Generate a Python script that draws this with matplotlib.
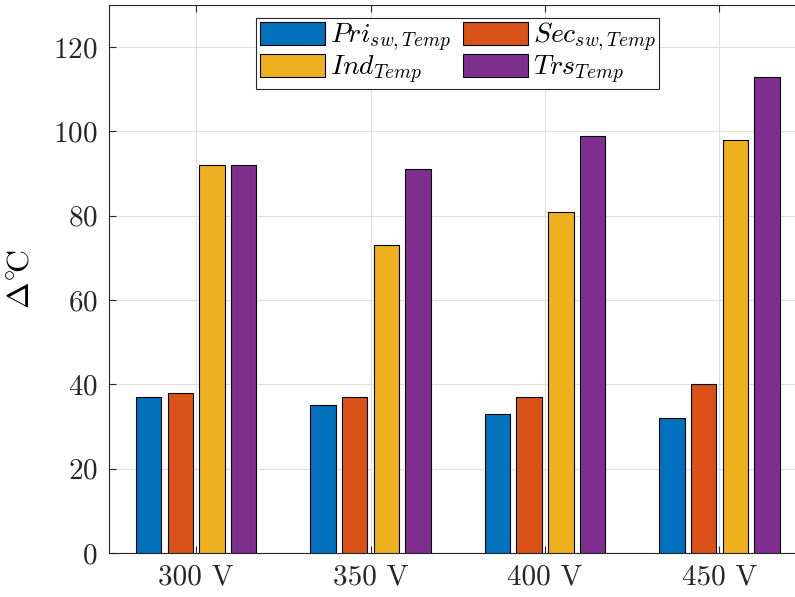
import matplotlib
matplotlib.use("Agg")
import matplotlib.pyplot as plt
import numpy as np

plt.rcParams['font.family'] = 'serif'
plt.rcParams['font.serif'] = ['cmr10']
plt.rcParams['mathtext.fontset'] = 'cm'
plt.rcParams['axes.formatter.use_mathtext'] = True

categories = ['300 V', '350 V', '400 V', '450 V']
series_labels = [r'$Pri_{sw,Temp}$', r'$Sec_{sw,Temp}$', r'$Ind_{Temp}$', r'$Trs_{Temp}$']
pri_sw = [37, 35, 33, 32]
sec_sw = [38, 37, 37, 40]
ind_temp = [92, 73, 81, 98]
trs_temp = [92, 91, 99, 113]
yticks = [0, 20, 40, 60, 80, 100, 120]

series = [pri_sw, sec_sw, ind_temp, trs_temp]
colors = ['#0072BD', '#D95319', '#EDB120', '#7E2F8E']

fig = plt.figure(figsize=(7.95, 5.97), dpi=100)
ax = fig.add_axes([109 / 795, 44 / 597, 697.6 / 795, 548 / 597])

x = np.arange(1, len(categories) + 1)
n = len(series)
group_w = min(0.8, n / (n + 1.5))
slot = group_w / n
bar_w = 0.8 * slot

handles = []
for i, (vals, lab, col) in enumerate(zip(series, series_labels, colors)):
    offs = -group_w / 2 + slot * (i + 0.5)
    h = ax.bar(x + offs, vals, width=bar_w, color=col, edgecolor='black',
               linewidth=0.8, label=lab, zorder=3)
    handles.append(h)

ax.set_xlim(0.5, 4.5)
ax.set_ylim(0, 130)
ax.set_xticks(x)
ax.set_xticklabels(categories)
ax.set_yticks(yticks)
ax.tick_params(axis='both', labelsize=21, direction='in', length=5,
               width=0.8, colors='#262626', pad=8)
ax.tick_params(axis='x', top=True)
ax.grid(True, color='#e0e0e0', linewidth=0.8, zorder=0)
ax.set_axisbelow(True)

for side in ['left', 'bottom', 'top']:
    ax.spines[side].set_color('#262626')
    ax.spines[side].set_linewidth(0.8)
ax.spines['right'].set_visible(False)

ax.set_ylabel(r'$\Delta^{\circ}\!\mathrm{C}$', fontsize=23, labelpad=13)

# row-major legend order: matplotlib fills columns first
order = [0, 2, 1, 3]
leg = ax.legend([handles[k] for k in order], [series_labels[k] for k in order],
                loc='upper center', ncol=2, fontsize=20, frameon=True,
                fancybox=False, edgecolor='#262626', framealpha=1,
                handlelength=2.34, handleheight=0.9, columnspacing=0.45,
                handletextpad=0.18, labelspacing=0.0, borderpad=0.12,
                borderaxespad=0.0, bbox_to_anchor=(0.5, 0.977))
leg.get_frame().set_linewidth(0.8)

fig.savefig('out.png', dpi=100)
